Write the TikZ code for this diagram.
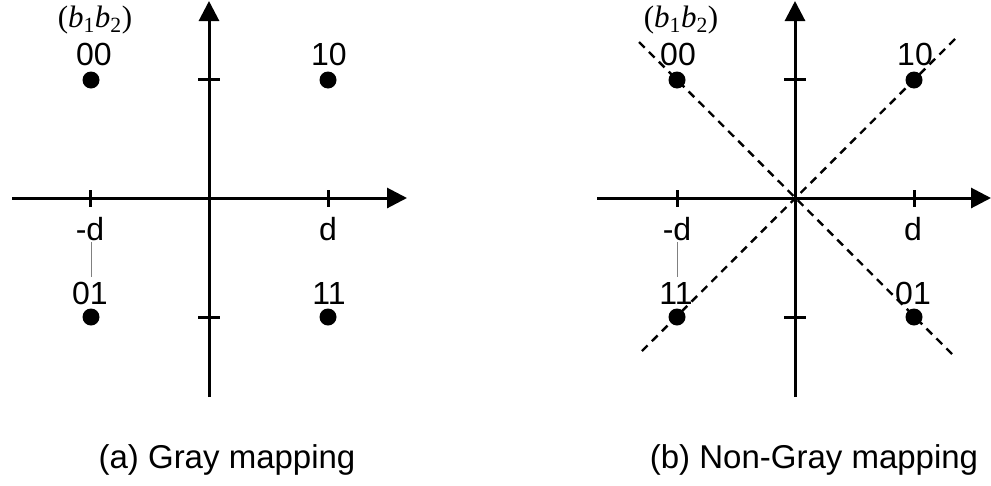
\documentclass[tikz,border=0pt]{standalone}
\usepackage{fontspec}
\setmainfont{Liberation Sans}
\newfontfamily\timesfont{Liberation Serif}
\usetikzlibrary{arrows.meta}
\begin{document}
\begin{tikzpicture}[x=1pt,y=-1pt,
  axis/.style={line width=3pt,-{Triangle[length=20pt,width=20pt]}},
  tickmark/.style={line width=3pt},
  dot/.style={circle,fill=black,inner sep=0pt,minimum size=17pt},
  lbl/.style={font=\fontsize{32}{38}\selectfont,anchor=base,inner sep=0pt},
  bits/.style={font=\timesfont\fontsize{31}{36}\selectfont,anchor=base,inner sep=0pt},
  capt/.style={font=\fontsize{33}{38}\selectfont,anchor=base,inner sep=0pt},
  diag/.style={line width=2.4pt,dash pattern=on 8pt off 6pt},
  lead/.style={gray,line width=1pt}]
\useasboundingbox (0,0) rectangle (991,485);

% ---------- panel (a) ----------
\begin{scope}[shift={(209,0)}]
  \coordinate (aO) at (0,198);
  \coordinate (axl) at (-197,198);
  \coordinate (axr) at (198,198);
  \coordinate (ayb) at (0,397);
  \coordinate (ayt) at (0,1);
  \draw[axis] (axl) -- (axr);
  \draw[axis] (ayb) -- (ayt);
  \draw[tickmark] (-119,190) -- (-119,207);
  \draw[tickmark] (119,190) -- (119,207);
  \draw[tickmark] (-11,79) -- (11,79);
  \draw[tickmark] (-11,317) -- (11,317);
  \node[dot] (a00) at (-118,80) {};
  \node[dot] (a10) at (119,80) {};
  \node[dot] (a01) at (-118,317) {};
  \node[dot] (a11) at (119,317) {};
  \node[bits] (ab) at (-114,27) {(\textit{b}\textsubscript{1}\textit{b}\textsubscript{2})};
  \node[lbl] (al00) at (-115,65) {00};
  \node[lbl] (al10) at (120,65) {10};
  \node[lbl] (alm) at (-119,240) {-d};
  \node[lbl] (ald) at (119,240) {d};
  \node[lbl] (al01) at (-119,304) {01};
  \node[lbl] (al11) at (120,304) {11};
  \coordinate (aL1) at (-118,242);
  \coordinate (aL2) at (-118,277);
  \draw[lead] (aL1) -- (aL2);
  \node[capt] (acap) at (18,468) {(a) Gray mapping};
\end{scope}

% ---------- panel (b) ----------
\begin{scope}[shift={(795,0)}]
  \coordinate (bO) at (0,198);
  \coordinate (bxl) at (-198,198);
  \coordinate (bxr) at (196,198);
  \coordinate (byb) at (0,397);
  \coordinate (byt) at (0,1);
  \draw[axis] (bxl) -- (bxr);
  \draw[axis] (byb) -- (byt);
  \draw[tickmark] (-118,190) -- (-118,207);
  \draw[tickmark] (119,190) -- (119,207);
  \draw[tickmark] (-11,79) -- (11,79);
  \draw[tickmark] (-11,317) -- (11,317);
  \node[dot] (b00) at (-118,80) {};
  \node[dot] (b10) at (119,80) {};
  \node[dot] (b11) at (-118,317) {};
  \node[dot] (b01) at (119,317) {};
  \coordinate (bd1s) at (-156,42);
  \coordinate (bd1e) at (160,357);
  \coordinate (bd2s) at (160,39);
  \coordinate (bd2e) at (-155,353);
  \draw[diag] (bd1s) -- (bd1e);
  \draw[diag] (bd2s) -- (bd2e);
  \node[bits] (bb) at (-114,27) {(\textit{b}\textsubscript{1}\textit{b}\textsubscript{2})};
  \node[lbl] (bl00) at (-117,65) {00};
  \node[lbl] (bl10) at (120,65) {10};
  \node[lbl] (blm) at (-118,240) {-d};
  \node[lbl] (bld) at (118,240) {d};
  \node[lbl] (bl11) at (-119,304) {11};
  \node[lbl] (bl01) at (118,304) {01};
  \coordinate (bL1) at (-118,242);
  \coordinate (bL2) at (-118,277);
  \draw[lead] (bL1) -- (bL2);
  \node[capt] (bcap) at (19,468) {(b) Non-Gray mapping};
\end{scope}
\end{tikzpicture}
\end{document}
